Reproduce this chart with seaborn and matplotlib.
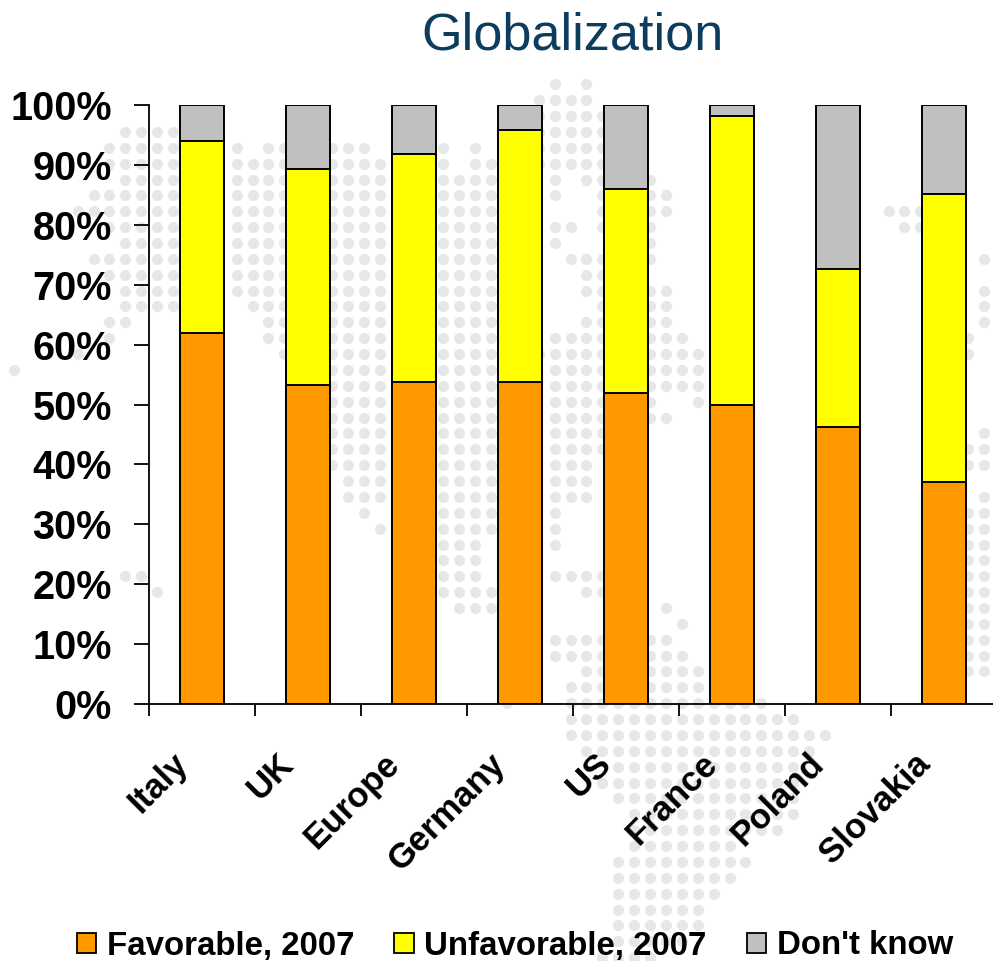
from __future__ import annotations

import matplotlib

matplotlib.use("Agg")
import matplotlib.pyplot as plt
import pandas as pd
import seaborn as sns
from matplotlib.patches import Patch
from matplotlib.transforms import ScaledTranslation

countries = ["Italy", "UK", "Europe", "Germany", "US", "France", "Poland", "Slovakia"]
favorable = [61.9, 53.3, 53.7, 53.7, 51.9, 50.0, 46.3, 37.0]
unfavorable = [32.1, 36.0, 38.1, 42.2, 34.0, 48.1, 26.3, 48.1]
dont_know = [6.0, 10.7, 8.2, 4.1, 14.1, 1.9, 27.4, 14.9]
y_ticks = list(range(0, 101, 10))
y_tick_labels = [f"{tick}%" for tick in y_ticks]
legend_labels = ["Favorable, 2007", "Unfavorable, 2007", "Don't know"]
bar_colors = ["#ff9900", "#ffff00", "#c0c0c0"]

# background world map: grid row -> runs of dotted grid columns
map_runs = {
    0: [(34, 34), (36, 36)],
    1: [(33, 36)],
    2: [(33, 37)],
    3: [(7, 10), (33, 37)],
    4: [(6, 10), (14, 14), (16, 17), (20, 22), (27, 27), (29, 29), (33, 37)],
    5: [(6, 10), (14, 17), (20, 23), (27, 27), (29, 30), (33, 37)],
    6: [(7, 10), (14, 17), (20, 23), (27, 30), (34, 34), (36, 37), (40, 40)],
    7: [(5, 10), (14, 17), (20, 23), (27, 30), (34, 34), (37, 37), (40, 41)],
    8: [(4, 10), (14, 17), (20, 23), (27, 30), (37, 37), (40, 41), (55, 57)],
    9: [(6, 10), (14, 17), (20, 23), (27, 30), (34, 35), (37, 37), (40, 40), (56, 57)],
    10: [(7, 10), (14, 17), (20, 23), (27, 30), (34, 34), (40, 40)],
    11: [(5, 10), (14, 17), (20, 23), (27, 30), (35, 40), (61, 61)],
    12: [(6, 10), (14, 17), (20, 23), (27, 30), (36, 37)],
    13: [(7, 10), (14, 17), (20, 23), (27, 30), (36, 41), (61, 61)],
    14: [(7, 10), (15, 17), (20, 23), (27, 30), (37, 41), (61, 61)],
    15: [(6, 7), (16, 17), (20, 23), (27, 30), (36, 41), (61, 61)],
    16: [(6, 6), (16, 17), (20, 23), (27, 30), (34, 42), (60, 60)],
    17: [(4, 4), (17, 17), (20, 23), (27, 30), (33, 43), (60, 60)],
    18: [(0, 0), (20, 23), (27, 30), (34, 43)],
    19: [(20, 23), (27, 30), (34, 43)],
    20: [(20, 23), (27, 30), (34, 37), (40, 40), (43, 43)],
    21: [(20, 23), (27, 30), (34, 37), (40, 41)],
    22: [(20, 23), (27, 30), (34, 37), (61, 61)],
    23: [(20, 23), (27, 30), (34, 37), (60, 61)],
    24: [(20, 23), (27, 30), (34, 36), (60, 61)],
    25: [(21, 23), (27, 30), (34, 36)],
    26: [(21, 23), (27, 30), (34, 36), (61, 61)],
    27: [(22, 22), (27, 30), (34, 34), (60, 61)],
    28: [(23, 23), (27, 30), (34, 34), (60, 61)],
    29: [(27, 29), (34, 34), (60, 61)],
    30: [(27, 29), (60, 61)],
    31: [(7, 8), (27, 29), (34, 37), (58, 58), (60, 61)],
    32: [(9, 9), (27, 30), (36, 37), (60, 61)],
    33: [(28, 30), (41, 41), (58, 58), (60, 61)],
    34: [(42, 42), (58, 58), (60, 61)],
    35: [(34, 41), (60, 61)],
    36: [(34, 42), (60, 61)],
    37: [(36, 44), (60, 61)],
    38: [(35, 43)],
    39: [(31, 31), (35, 47)],
    40: [(35, 49)],
    41: [(35, 51)],
    42: [(36, 50)],
    43: [(38, 49)],
    44: [(37, 49)],
    45: [(38, 49)],
    46: [(39, 49)],
    47: [(39, 48)],
    48: [(39, 45)],
    49: [(38, 46)],
    50: [(38, 45)],
    51: [(38, 44)],
    52: [(38, 43)],
    53: [(38, 43)],
    54: [(38, 42)],
    55: [(37, 40)],
}


def map_dots() -> pd.DataFrame:
    rows = []
    for row, runs in map_runs.items():
        for start, end in runs:
            for column in range(start, end + 1):
                rows.append({"x": 14 + 15.9 * column, "y": 84.3 + 15.87 * row})
    return pd.DataFrame(rows)


def main() -> None:
    sns.set_theme(style="white")
    plt.rcParams["font.family"] = ["Liberation Sans", "DejaVu Sans"]

    width, height = 993, 961
    fig = plt.figure(figsize=(width / 100, height / 100), dpi=100, facecolor="white")

    back = fig.add_axes([0, 0, 1, 1], zorder=0)
    sns.scatterplot(data=map_dots(), x="x", y="y", color="#e6e7e7", s=64, linewidth=0, ax=back, legend=False)
    back.set_xlim(0, width)
    back.set_ylim(height, 0)
    back.axis("off")

    ax = fig.add_axes(
        [149 / width, 1 - 704 / height, 848 / width, 599 / height],
        zorder=1,
        facecolor="none",
    )

    frame = pd.DataFrame(
        {
            "country": countries,
            "favorable": favorable,
            "unfavorable": unfavorable,
            "dont_know": dont_know,
        }
    )
    frame["to_unfavorable"] = frame["favorable"] + frame["unfavorable"]
    frame["to_top"] = frame["to_unfavorable"] + frame["dont_know"]

    # tallest stack first so the lower segments paint over it
    for column, color in zip(["to_top", "to_unfavorable", "favorable"], bar_colors[::-1], strict=True):
        sns.barplot(
            data=frame,
            x="country",
            y=column,
            color=color,
            saturation=1,
            width=0.41,
            edgecolor="black",
            linewidth=1.4,
            ax=ax,
        )

    ax.set_xlim(-0.5, 7.5)
    ax.set_ylim(0, 100)
    ax.set_xlabel("")
    ax.set_ylabel("")
    sns.despine(ax=ax)
    for side in ["left", "bottom"]:
        ax.spines[side].set_linewidth(1.3)
        ax.spines[side].set_color("black")

    ax.set_yticks(y_ticks, y_tick_labels, fontsize=28.5, fontweight="bold", color="black")
    ax.tick_params(axis="y", left=True, length=10.8, width=1.3, color="black", pad=16)

    ax.set_xticks(range(len(countries)), countries, fontsize=25, fontweight="bold", color="black")
    ax.set_xticks([i - 0.5 for i in range(len(countries) + 1)], minor=True)
    ax.tick_params(axis="x", which="major", length=0, pad=30)
    ax.tick_params(axis="x", which="minor", bottom=True, length=8.6, width=1.3, color="black")
    label_shift = ScaledTranslation(-31 / 100, -1 / 100, fig.dpi_scale_trans)
    for label in ax.get_xticklabels():
        label.set(rotation=45, ha="right", rotation_mode="anchor")
        label.set_transform(label.get_transform() + label_shift)

    fig.text(573 / width, 1 - 50 / height, "Globalization", fontsize=37.6, color="#0d3d5e", ha="center", va="baseline")

    handles = [
        Patch(facecolor=color, edgecolor="black", linewidth=1.3, label=label)
        for color, label in zip(bar_colors, legend_labels, strict=True)
    ]
    fig.legend(
        handles=handles,
        ncol=3,
        loc="center",
        bbox_to_anchor=(515 / width, 1 - 946 / height),
        frameon=False,
        prop={"size": 23.8, "weight": "bold"},
        labelcolor="black",
        handlelength=0.58,
        handleheight=0.58,
        handletextpad=0.33,
        columnspacing=1.2,
        borderpad=0,
        borderaxespad=0,
    )

    fig.savefig("out.png", dpi=100, facecolor="white")


if __name__ == "__main__":
    main()
